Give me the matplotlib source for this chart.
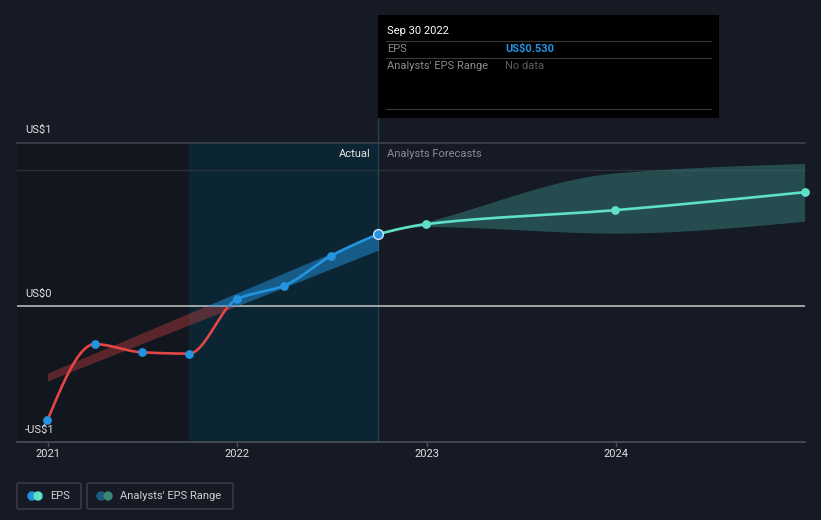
import numpy as np
import matplotlib
matplotlib.use("Agg")
import matplotlib.pyplot as plt
from matplotlib.patches import Rectangle, FancyBboxPatch, Circle

plt.rcParams['font.family'] = ['Roboto', 'DejaVu Sans']

# ---------------- data ----------------
eps_dates = [2020.997, 2021.247, 2021.496, 2021.745, 2021.997, 2022.247, 2022.496, 2022.745]
eps_values = [-0.84, -0.28, -0.34, -0.35, 0.05, 0.15, 0.37, 0.53]

fc_dates = [2022.745, 2022.997, 2023.997, 2024.997]
fc_values = [0.53, 0.603, 0.706, 0.838]
fc_high = [0.53, 0.62, 0.98, 1.05]
fc_low = [0.53, 0.585, 0.537, 0.625]

trend_dates = [2020.997, 2022.745]
trend_high = [-0.493, 0.537]
trend_low = [-0.551, 0.412]

year_ticks = [2021, 2022, 2023, 2024]
y_labels = ["US$1", "US$0", "-US$1"]

BG = "#151a24"
RED = "#e34646"
BLUE = "#2394df"
TEAL = "#5fe0c8"


def monotone(xs, ys, n=60):
    xs = np.asarray(xs, float); ys = np.asarray(ys, float)
    h = np.diff(xs); d = np.diff(ys) / h
    m = np.zeros_like(ys)
    m[0] = d[0]; m[-1] = d[-1]
    for i in range(1, len(xs) - 1):
        if d[i - 1] * d[i] <= 0:
            m[i] = 0
        else:
            m[i] = (3 * (h[i - 1] + h[i])) / ((2 * h[i] + h[i - 1]) / d[i - 1] + (h[i] + 2 * h[i - 1]) / d[i])
    if len(xs) > 2:
        m[0] = (3 * d[0] - m[1]) / 2 if d[0] * (3 * d[0] - m[1]) > 0 else 0
        m[-1] = (3 * d[-1] - m[-2]) / 2 if d[-1] * (3 * d[-1] - m[-2]) > 0 else 0
    X = []; Y = []
    for i in range(len(xs) - 1):
        t = np.linspace(0, 1, n, endpoint=(i == len(xs) - 2))
        h00 = 2 * t**3 - 3 * t**2 + 1
        h10 = t**3 - 2 * t**2 + t
        h01 = -2 * t**3 + 3 * t**2
        h11 = t**3 - t**2
        X.append(xs[i] + t * h[i])
        Y.append(h00 * ys[i] + h10 * h[i] * m[i] + h01 * ys[i + 1] + h11 * h[i] * m[i + 1])
    return np.concatenate(X), np.concatenate(Y)


W, H = 821, 520
fig = plt.figure(figsize=(W / 100, H / 100), dpi=100)
fig.patch.set_facecolor(BG)

x0, x1 = 17, 805
ytop, ybot = 143, 442
ax = fig.add_axes([x0 / W, (H - ybot) / H, (x1 - x0) / W, (ybot - ytop) / H], zorder=2)
ax.set_facecolor('none')
px_per_year = 189.3
xmin = 2021 - (48 - x0) / px_per_year
xmax = 2021 + (x1 - 48) / px_per_year
ax.set_xlim(xmin, xmax)
ax.set_ylim(-1.0, 1.2)
for s in ax.spines.values():
    s.set_visible(False)
ax.set_xticks([]); ax.set_yticks([])

# overlay axes in pixel coordinates for texts/decorations (on top)
ov = fig.add_axes([0, 0, 1, 1], zorder=10)
ov.set_facecolor('none')
ov.set_xlim(0, W); ov.set_ylim(H, 0); ov.axis('off')

# background regions
ax.axvspan(xmin, eps_dates[3], color="#12161e", zorder=0, lw=0)
ax.axvspan(eps_dates[3], eps_dates[-1], color="#0b2533", zorder=0, lw=0)
ax.axvline(eps_dates[-1], color="#1d4656", lw=1, zorder=1)

# grid lines
ax.axhline(1.0, color="#2b313b", lw=1, zorder=1)
ax.axhline(1.2, color="#3c414b", lw=1.2, zorder=1, clip_on=False)
ax.axhline(0.0, color="#c8c8c8", lw=1.1, zorder=1)
ax.axhline(-1.0, color="#4a4f58", lw=1.2, zorder=1, clip_on=False)

# y labels (pixel positions), drawn beneath the data marks
for lab, yy in zip(y_labels, [130, 294, 430]):
    ax.text(25, yy, lab, color="#e0e0e0", fontsize=8, ha='left', va='center',
            transform=ov.transData, clip_on=False, zorder=1.5)

# past trend band
tx = np.linspace(trend_dates[0], trend_dates[1], 300)
th = np.interp(tx, trend_dates, trend_high)
tl = np.interp(tx, trend_dates, trend_low)
ax.fill_between(tx, tl, np.minimum(th, 0), where=tl < 0, color=RED, alpha=0.35, lw=0, zorder=2)
ax.fill_between(tx, np.maximum(tl, 0), th, where=th > 0, color=BLUE, alpha=0.5, lw=0, zorder=2)

# forecast band
bx, bh = monotone(fc_dates, fc_high)
_, bl = monotone(fc_dates, fc_low)
ax.fill_between(bx, bl, bh, color="#3a8a82", alpha=0.45, lw=0, zorder=2)

# EPS line (red below zero, blue above)
ex, ey = monotone(eps_dates, eps_values, n=200)
idx = np.where((ey[:-1] < 0) & (ey[1:] >= 0))[0][-1]
xc = ex[idx] + (0 - ey[idx]) * (ex[idx + 1] - ex[idx]) / (ey[idx + 1] - ey[idx])
rx = np.append(ex[:idx + 1], xc); ry = np.append(ey[:idx + 1], 0)
bxx = np.insert(ex[idx + 1:], 0, xc); byy = np.insert(ey[idx + 1:], 0, 0)
ax.plot(rx, ry, color=RED, lw=1.9, zorder=3, solid_capstyle='round')
ax.plot(bxx, byy, color=BLUE, lw=1.9, zorder=3, solid_capstyle='round')
ax.plot(eps_dates[:-1], eps_values[:-1], 'o', color=BLUE, ms=6.3, mec='none', zorder=4)
ax.plot(eps_dates[-1], eps_values[-1], 'o', color=BLUE, ms=7, mec="#cfe6f7", mew=1.0, zorder=5)

# forecast line
fx, fy = monotone(fc_dates, fc_values)
ax.plot(fx, fy, color=TEAL, lw=1.9, zorder=3)
ax.plot(fc_dates[1:], fc_values[1:], 'o', color=TEAL, ms=6.3, mec='none', zorder=4, clip_on=False)

# x ticks
for yr in year_ticks:
    ax.plot([yr, yr], [-1.0, -1.03], color="#4a4f58", lw=1, clip_on=False, zorder=1)
    ax.text(yr, -1.09, str(yr), color="#e0e0e0", fontsize=8, ha='center', va='center')

# header labels
ov.text(371, 154, "Actual", color="#e6e6e6", fontsize=8, ha='right', va='center')
ov.text(387, 154, "Analysts Forecasts", color="#8a8d93", fontsize=8, ha='left', va='center')

# vertical line up to tooltip
ov.plot([378, 378], [118, 143], color="#1d4656", lw=1, zorder=1)

# tooltip
ov.add_patch(Rectangle((378, 15), 341, 103, facecolor="#000000", edgecolor='none', zorder=5))
ov.text(387, 31, "Sep 30 2022", color="#ffffff", fontsize=8, ha='left', va='center', zorder=6)
for yy in [41, 58, 109]:
    ov.plot([386, 711], [yy, yy], color="#3a3a3a", lw=0.8, zorder=6)
ov.text(387, 49, "EPS", color="#8c8c8c", fontsize=8, ha='left', va='center', zorder=6)
ov.text(505, 49, "US$0.530", color=BLUE, fontsize=8, fontweight='bold', ha='left', va='center', zorder=6)
ov.text(387, 66, "Analysts' EPS Range", color="#8c8c8c", fontsize=8, ha='left', va='center', zorder=6)
ov.text(505, 66, "No data", color="#5c5c5c", fontsize=8, ha='left', va='center', zorder=6)

# legend
ov.add_patch(FancyBboxPatch((17, 483), 64, 26, boxstyle="round,pad=0,rounding_size=2",
                            facecolor='none', edgecolor="#3c414b", lw=1))
ov.add_patch(FancyBboxPatch((87, 483), 146, 26, boxstyle="round,pad=0,rounding_size=2",
                            facecolor='none', edgecolor="#3c414b", lw=1))
ov.add_patch(Circle((32, 496), 4, color=BLUE, zorder=3))
ov.add_patch(Circle((38, 496), 4, color=TEAL, zorder=4))
ov.text(50, 496, "EPS", color="#d0d0d0", fontsize=8, ha='left', va='center')
ov.add_patch(Circle((101, 496), 4, color="#1f5a82", zorder=3))
ov.add_patch(Circle((108, 496), 4, color="#3d8479", zorder=4))
ov.text(120, 496, "Analysts' EPS Range", color="#d0d0d0", fontsize=8, ha='left', va='center')

fig.savefig("out.png", dpi=100, facecolor=BG)
